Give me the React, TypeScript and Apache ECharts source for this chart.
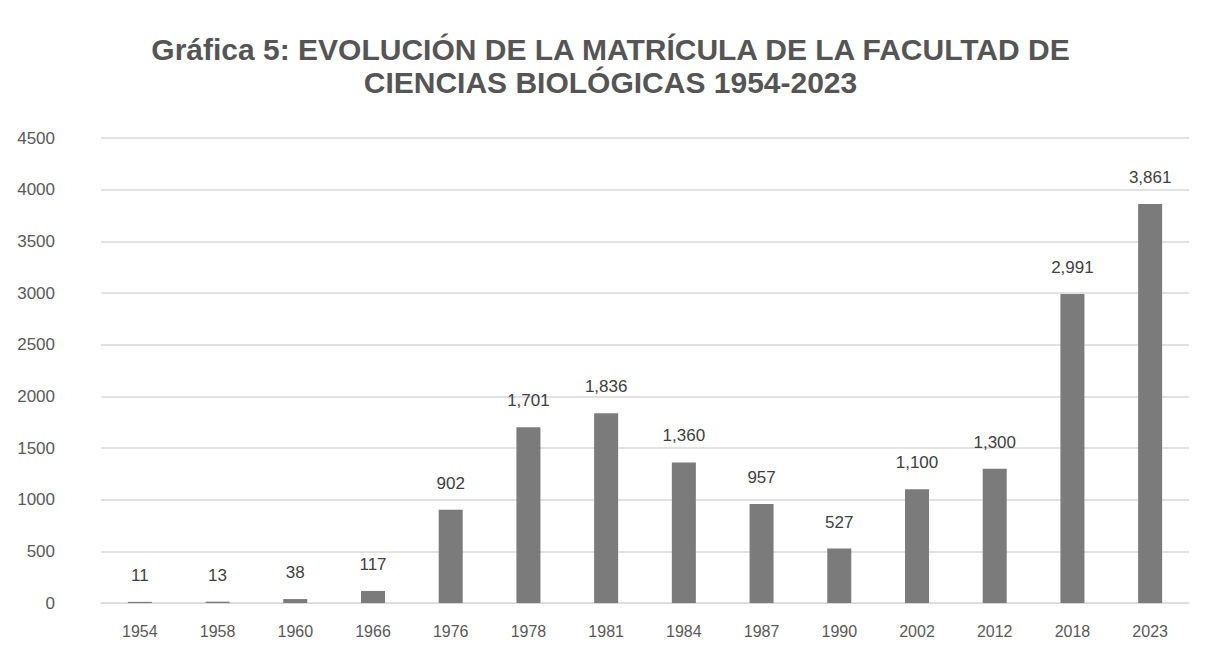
import React, { useEffect, useRef } from "react";
import * as echarts from "echarts";

const years = ["1954", "1958", "1960", "1966", "1976", "1978", "1981", "1984", "1987", "1990", "2002", "2012", "2018", "2023"];
const enrollment = [11, 13, 38, 117, 902, 1701, 1836, 1360, 957, 527, 1100, 1300, 2991, 3861];
const titleLines = [
  "Gráfica 5: EVOLUCIÓN DE LA MATRÍCULA DE LA FACULTAD DE",
  "CIENCIAS BIOLÓGICAS 1954-2023",
];

const fmt = (v: number) => v.toLocaleString("en-US");

export default function App() {
  const ref = useRef<HTMLDivElement>(null);
  useEffect(() => {
    if (!ref.current) return;
    const chart = echarts.init(ref.current, null, { renderer: "svg" });
    chart.setOption({
      animation: false,
      backgroundColor: "#ffffff",
      title: {
        text: titleLines.join("\n"),
        left: "center",
        top: 28,
        textStyle: {
          fontFamily: "'Liberation Sans', Arial, sans-serif",
          fontSize: 30,
          fontWeight: "bold",
          color: "#555555",
          lineHeight: 33,
        },
      },
      grid: { left: 101, right: 32, top: 138, bottom: 62 },
      xAxis: {
        type: "category",
        data: years,
        axisLine: { show: true, lineStyle: { color: "#d9d9d9" } },
        axisTick: { show: false },
        axisLabel: {
          color: "#595959",
          fontSize: 16,
          margin: 20,
          fontFamily: "'Liberation Sans', sans-serif",
        },
      },
      yAxis: {
        type: "value",
        min: 0,
        max: 4500,
        interval: 500,
        axisLine: { show: false },
        axisTick: { show: false },
        splitLine: { lineStyle: { color: "#d9d9d9", width: 1.5 } },
        axisLabel: {
          color: "#595959",
          fontSize: 17,
          margin: 46,
          formatter: (v: number) => String(v),
          fontFamily: "'Liberation Sans', sans-serif",
        },
      },
      series: [
        {
          type: "bar",
          data: enrollment,
          barWidth: 24,
          itemStyle: { color: "#7b7b7b" },
          label: {
            show: true,
            position: "top",
            distance: 18,
            color: "#404040",
            fontSize: 17,
            fontFamily: "'Liberation Sans', sans-serif",
            formatter: (p: any) => fmt(p.value),
          },
        },
      ],
    });
    return () => chart.dispose();
  }, []);
  return (
    <div
      ref={ref}
      style={{ position: "fixed", left: 0, top: 0, width: 1221, height: 665 }}
    />
  );
}
